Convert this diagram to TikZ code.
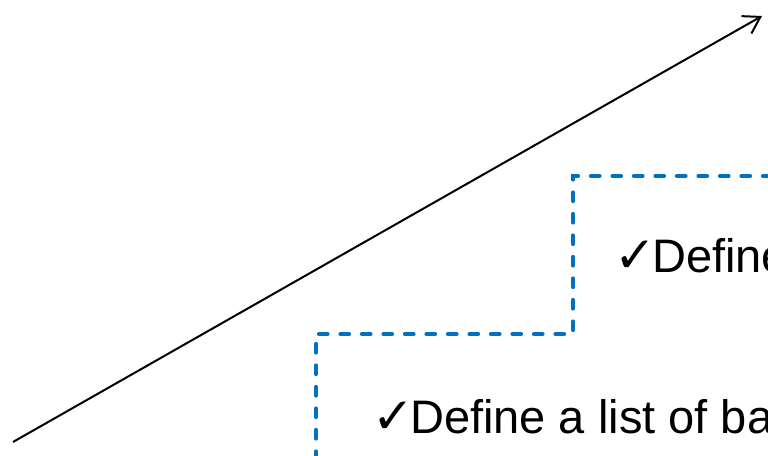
\documentclass[tikz,border=0pt]{standalone}
\usepackage{fontspec}
\setmainfont{Liberation Sans}
\newfontfamily\checkfont{DejaVu Sans}
\usetikzlibrary{arrows.meta}
\definecolor{stepblue}{HTML}{0070C0}
\tikzset{
  growth/.style={draw=black, line width=2pt, -{Straight Barb[length=16pt,width=20pt,line width=2pt]}},
  stairs/.style={draw=stepblue, line width=4.2pt, dash pattern=on 8.5pt off 13pt, line cap=round},
  item/.style={anchor=base west, inner sep=0pt, font=\fontsize{47}{52}\selectfont},
}
\newcommand{\tick}{{\checkfont\fontsize{50}{52}\selectfont ✓}\kern-4pt}
\begin{document}
\begin{tikzpicture}[x=1pt,y=1pt]
\useasboundingbox (0,0) rectangle (768,455);
\clip (0,0) rectangle (768,455);
\coordinate (a0) at (13,13);
\coordinate (a1) at (762,439);
\draw[growth] (a0) -- (a1);
\coordinate (s0) at (316,-5);
\coordinate (s1) at (316,121);
\coordinate (s2) at (573,121);
\coordinate (s3) at (573,279);
\coordinate (s4) at (790,279);
\draw[stairs] (s0) -- (s1) -- (s2) -- (s3) -- (s4);
\node[item] (t1) at (614,182) {\tick Define};
\node[item] (t2) at (372,22) {\tick Define a list of ba};
\end{tikzpicture}
\end{document}
